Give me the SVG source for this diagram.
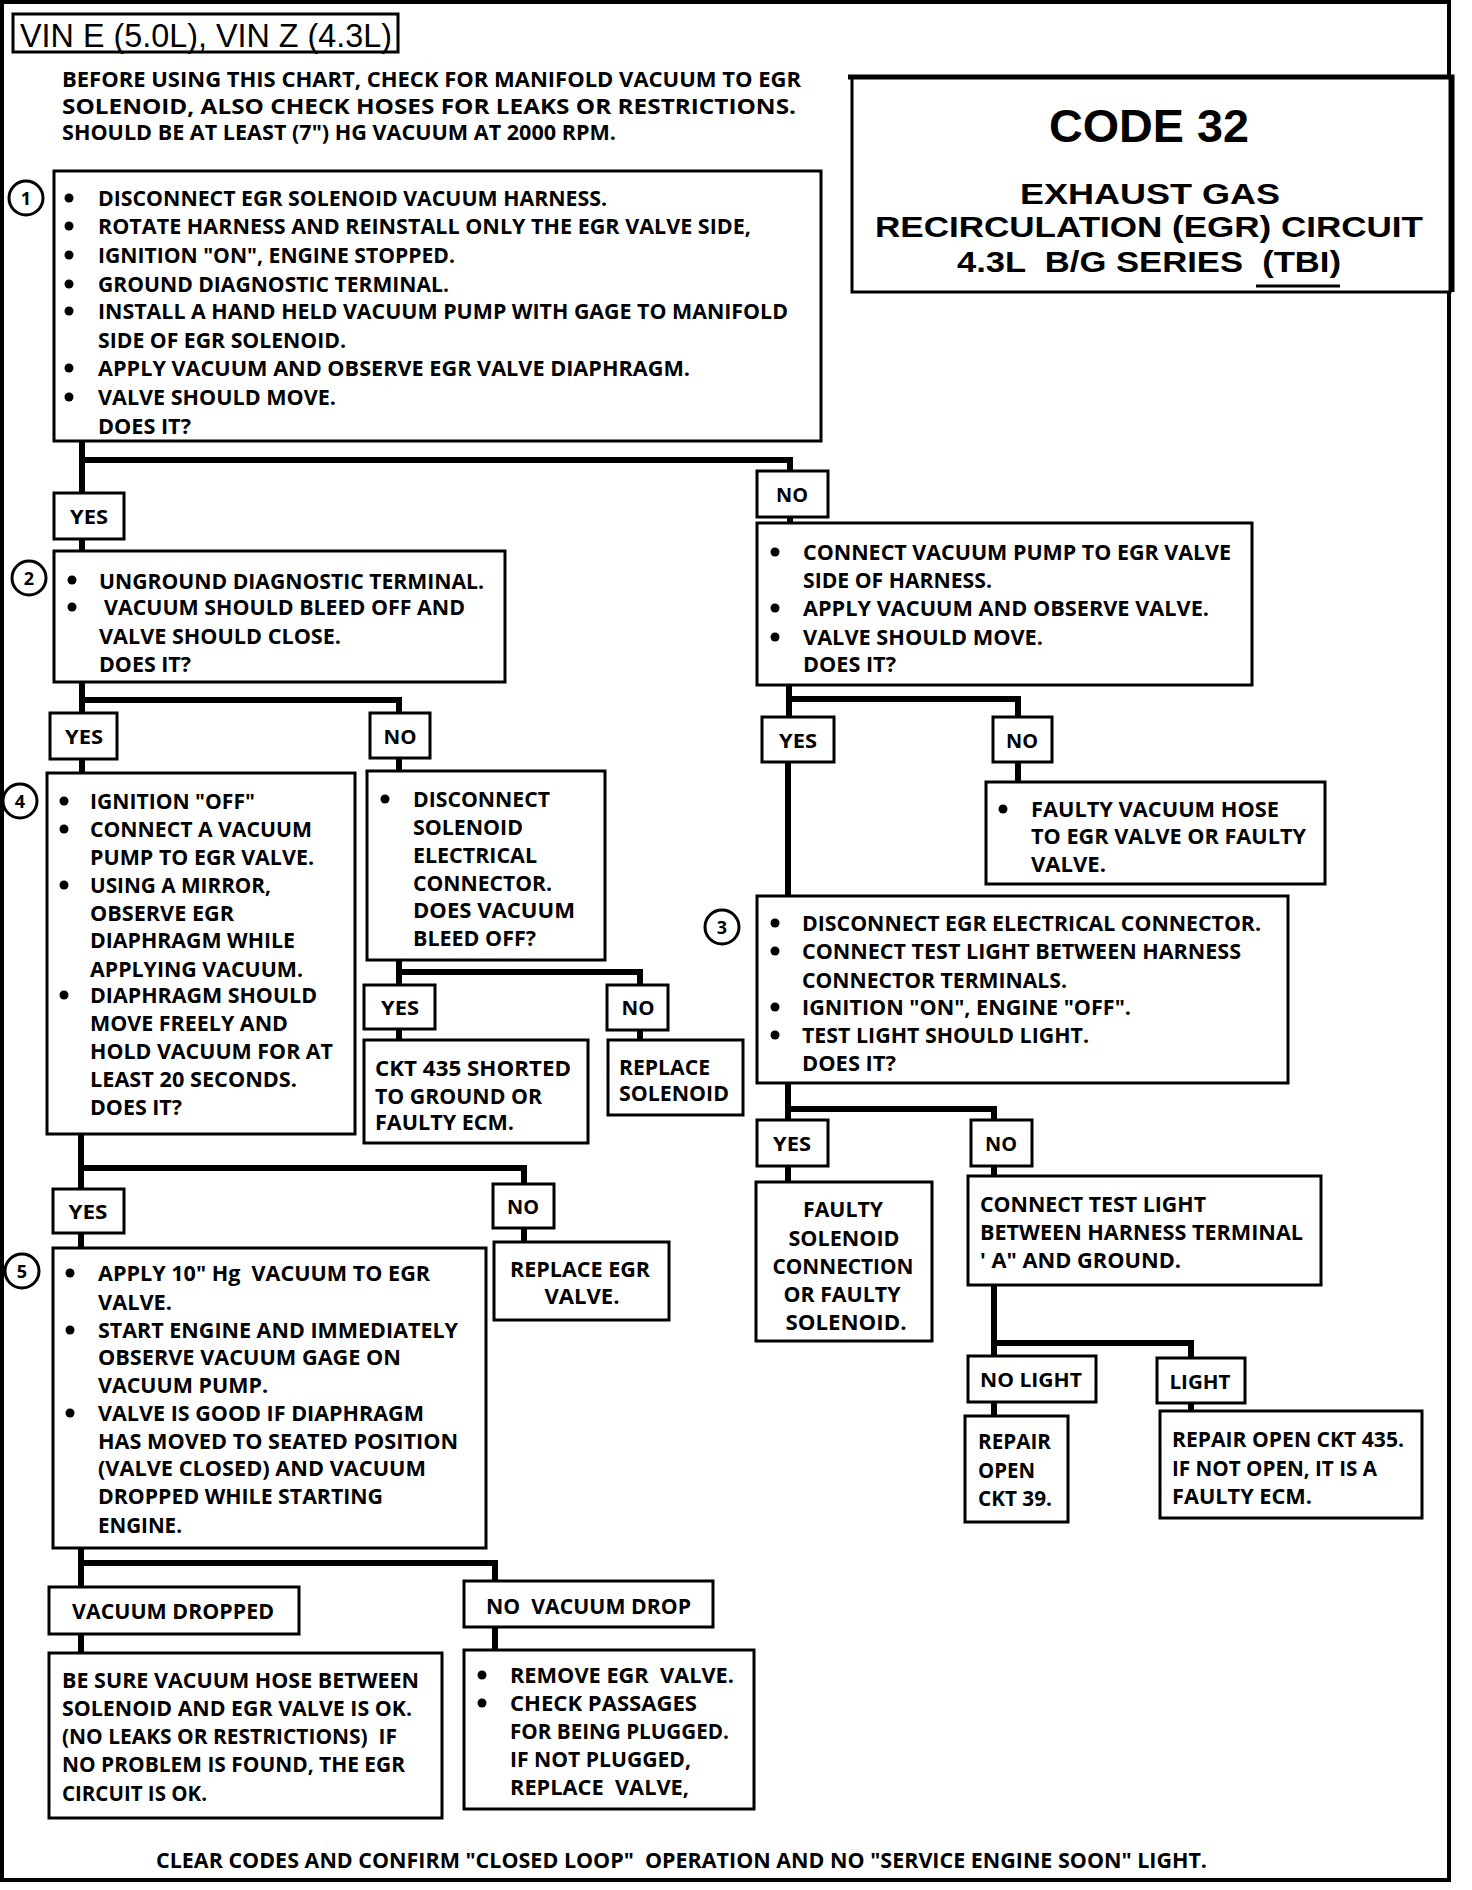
<svg xmlns="http://www.w3.org/2000/svg" width="1472" height="1890" viewBox="0 0 1472 1890">
<style>
.bg{fill:#fff}
.frame{fill:none;stroke:#000;stroke-width:4}
.box{fill:#fff;stroke:#000;stroke-width:3}
.wire{fill:none;stroke:#000;stroke-width:6}
.num{fill:#fff;stroke:#000;stroke-width:3}
text{white-space:pre}
.t{font-family:"Open Sans","DejaVu Sans",sans-serif;font-weight:700;font-size:21px;fill:#000}
.c{text-anchor:middle}
.lb{font-size:20px;text-anchor:middle}
.n{font-size:18px;text-anchor:middle}
.d{fill:#000}
.vin{font-family:"Liberation Sans",Arial,sans-serif;font-size:33px;fill:#000}
.ttl{font-family:"Liberation Sans",Arial,sans-serif;font-weight:700;fill:#000;text-anchor:middle}
</style>
<rect class="bg" x="0" y="0" width="1472" height="1890"/>
<rect class="frame" x="2" y="2" width="1447" height="1878"/>

<g id="vin">
<rect class="box" x="13" y="14" width="385" height="38"/>
<text class="vin" x="20" y="47" textLength="372" lengthAdjust="spacingAndGlyphs">VIN E (5.0L), VIN Z (4.3L)</text>
</g>

<g id="intro">
<text class="t" font-size="20" x="62" y="87" textLength="739" lengthAdjust="spacingAndGlyphs">BEFORE USING THIS CHART, CHECK FOR MANIFOLD VACUUM TO EGR</text>
<text class="t" font-size="20" x="62" y="114" textLength="734" lengthAdjust="spacingAndGlyphs">SOLENOID, ALSO CHECK HOSES FOR LEAKS OR RESTRICTIONS.</text>
<text class="t" font-size="20" x="62" y="140" textLength="554" lengthAdjust="spacingAndGlyphs">SHOULD BE AT LEAST (7") HG VACUUM AT 2000 RPM.</text>
</g>

<g id="title">
<rect x="852" y="77" width="598" height="215" fill="#fff" stroke="#000" stroke-width="3"/>
<path d="M848,77 H1452 V292" fill="none" stroke="#000" stroke-width="5"/>
<text class="ttl" font-size="46" x="1149" y="142" textLength="200" lengthAdjust="spacingAndGlyphs">CODE 32</text>
<text class="ttl" font-size="29" x="1150" y="204" textLength="260" lengthAdjust="spacingAndGlyphs">EXHAUST GAS</text>
<text class="ttl" font-size="29" x="1149" y="237" textLength="548" lengthAdjust="spacingAndGlyphs">RECIRCULATION (EGR) CIRCUIT</text>
<text class="ttl" font-size="29" x="1149" y="272" textLength="384" lengthAdjust="spacingAndGlyphs">4.3L  B/G SERIES  (TBI)</text>
<line x1="1256" y1="286" x2="1340" y2="286" stroke="#000" stroke-width="3"/>
</g>

<g id="connectors">
<path class="wire" d="M82,441 V551 M82,460 H790 V523"/>
<path class="wire" d="M82,682 V773 M82,700 H399 V771"/>
<path class="wire" d="M399,960 V1040 M399,972 H640 V1040"/>
<path class="wire" d="M789,685 V717 M789,699 H1018 V782"/>
<path class="wire" d="M788,762 V896" stroke-width="5"/>
<path class="wire" d="M788,1083 V1182 M788,1109 H994 V1176"/>
<path class="wire" d="M994,1285 V1416 M994,1343 H1191 V1411"/>
<path class="wire" d="M81,1134 V1248 M81,1168 H524 V1242"/>
<path class="wire" d="M81,1548 V1653 M81,1563 H495 V1650"/>
</g>

<g id="step1">
<rect class="box" x="54" y="171" width="767" height="270"/>
<circle class="num" cx="26" cy="198" r="17"/>
<text class="t n" x="26" y="205">1</text>
<circle class="d" cx="69" cy="198" r="4.5"/>
<circle class="d" cx="69" cy="226" r="4.5"/>
<circle class="d" cx="69" cy="255" r="4.5"/>
<circle class="d" cx="69" cy="284" r="4.5"/>
<circle class="d" cx="69" cy="311" r="4.5"/>
<circle class="d" cx="69" cy="368" r="4.5"/>
<circle class="d" cx="69" cy="397" r="4.5"/>
<text class="t" x="98" y="206" textLength="509" lengthAdjust="spacingAndGlyphs">DISCONNECT EGR SOLENOID VACUUM HARNESS.</text>
<text class="t" x="98" y="234" textLength="653" lengthAdjust="spacingAndGlyphs">ROTATE HARNESS AND REINSTALL ONLY THE EGR VALVE SIDE,</text>
<text class="t" x="98" y="263" textLength="357" lengthAdjust="spacingAndGlyphs">IGNITION "ON", ENGINE STOPPED.</text>
<text class="t" x="98" y="292" textLength="351" lengthAdjust="spacingAndGlyphs">GROUND DIAGNOSTIC TERMINAL.</text>
<text class="t" x="98" y="319" textLength="690" lengthAdjust="spacingAndGlyphs">INSTALL A HAND HELD VACUUM PUMP WITH GAGE TO MANIFOLD</text>
<text class="t" x="98" y="348" textLength="248" lengthAdjust="spacingAndGlyphs">SIDE OF EGR SOLENOID.</text>
<text class="t" x="98" y="376" textLength="592" lengthAdjust="spacingAndGlyphs">APPLY VACUUM AND OBSERVE EGR VALVE DIAPHRAGM.</text>
<text class="t" x="98" y="405" textLength="238" lengthAdjust="spacingAndGlyphs">VALVE SHOULD MOVE.</text>
<text class="t" x="98" y="434" textLength="93" lengthAdjust="spacingAndGlyphs">DOES IT?</text>
</g>

<g id="yes1">
<rect class="box" x="54" y="493" width="70" height="46"/>
<text class="t lb" x="89" y="524" textLength="38" lengthAdjust="spacingAndGlyphs">YES</text>
</g>
<g id="no1">
<rect class="box" x="757" y="471" width="71" height="46"/>
<text class="t lb" x="792" y="502" textLength="32" lengthAdjust="spacingAndGlyphs">NO</text>
</g>

<g id="step2">
<rect class="box" x="54" y="551" width="451" height="131"/>
<circle class="num" cx="29" cy="578" r="17"/>
<text class="t n" x="29" y="585">2</text>
<circle class="d" cx="72" cy="580" r="4.5"/>
<circle class="d" cx="72" cy="607" r="4.5"/>
<text class="t" x="99" y="589" textLength="385" lengthAdjust="spacingAndGlyphs">UNGROUND DIAGNOSTIC TERMINAL.</text>
<text class="t" x="104" y="615" textLength="361" lengthAdjust="spacingAndGlyphs">VACUUM SHOULD BLEED OFF AND</text>
<text class="t" x="99" y="644" textLength="242" lengthAdjust="spacingAndGlyphs">VALVE SHOULD CLOSE.</text>
<text class="t" x="99" y="672" textLength="92" lengthAdjust="spacingAndGlyphs">DOES IT?</text>
</g>

<g id="yes2">
<rect class="box" x="50" y="713" width="67" height="46"/>
<text class="t lb" x="84" y="744" textLength="38" lengthAdjust="spacingAndGlyphs">YES</text>
</g>
<g id="no2">
<rect class="box" x="370" y="713" width="60" height="45"/>
<text class="t lb" x="400" y="744" textLength="33" lengthAdjust="spacingAndGlyphs">NO</text>
</g>

<g id="step4">
<rect class="box" x="47" y="773" width="308" height="361"/>
<circle class="num" cx="20" cy="801" r="17"/>
<text class="t n" x="20" y="808">4</text>
<circle class="d" cx="64" cy="801" r="4.5"/>
<circle class="d" cx="64" cy="829" r="4.5"/>
<circle class="d" cx="64" cy="885" r="4.5"/>
<circle class="d" cx="64" cy="995" r="4.5"/>
<text class="t" x="90" y="809" textLength="165" lengthAdjust="spacingAndGlyphs">IGNITION "OFF"</text>
<text class="t" x="90" y="837" textLength="222" lengthAdjust="spacingAndGlyphs">CONNECT A VACUUM</text>
<text class="t" x="90" y="865" textLength="224" lengthAdjust="spacingAndGlyphs">PUMP TO EGR VALVE.</text>
<text class="t" x="90" y="893" textLength="181" lengthAdjust="spacingAndGlyphs">USING A MIRROR,</text>
<text class="t" x="90" y="921" textLength="144" lengthAdjust="spacingAndGlyphs">OBSERVE EGR</text>
<text class="t" x="90" y="948" textLength="205" lengthAdjust="spacingAndGlyphs">DIAPHRAGM WHILE</text>
<text class="t" x="90" y="977" textLength="213" lengthAdjust="spacingAndGlyphs">APPLYING VACUUM.</text>
<text class="t" x="90" y="1003" textLength="227" lengthAdjust="spacingAndGlyphs">DIAPHRAGM SHOULD</text>
<text class="t" x="90" y="1031" textLength="198" lengthAdjust="spacingAndGlyphs">MOVE FREELY AND</text>
<text class="t" x="90" y="1059" textLength="243" lengthAdjust="spacingAndGlyphs">HOLD VACUUM FOR AT</text>
<text class="t" x="90" y="1087" textLength="207" lengthAdjust="spacingAndGlyphs">LEAST 20 SECONDS.</text>
<text class="t" x="90" y="1115" textLength="92" lengthAdjust="spacingAndGlyphs">DOES IT?</text>
</g>

<g id="solenoid-check">
<rect class="box" x="367" y="771" width="238" height="189"/>
<circle class="d" cx="385" cy="799" r="4.5"/>
<text class="t" x="413" y="807" textLength="137" lengthAdjust="spacingAndGlyphs">DISCONNECT</text>
<text class="t" x="413" y="835" textLength="110" lengthAdjust="spacingAndGlyphs">SOLENOID</text>
<text class="t" x="413" y="863" textLength="124" lengthAdjust="spacingAndGlyphs">ELECTRICAL</text>
<text class="t" x="413" y="891" textLength="139" lengthAdjust="spacingAndGlyphs">CONNECTOR.</text>
<text class="t" x="413" y="918" textLength="162" lengthAdjust="spacingAndGlyphs">DOES VACUUM</text>
<text class="t" x="413" y="946" textLength="123" lengthAdjust="spacingAndGlyphs">BLEED OFF?</text>
</g>

<g id="yes3">
<rect class="box" x="364" y="985" width="71" height="44"/>
<text class="t lb" x="400" y="1015" textLength="38" lengthAdjust="spacingAndGlyphs">YES</text>
</g>
<g id="no3">
<rect class="box" x="607" y="985" width="61" height="45"/>
<text class="t lb" x="638" y="1015" textLength="33" lengthAdjust="spacingAndGlyphs">NO</text>
</g>

<g id="ckt435-shorted">
<rect class="box" x="364" y="1040" width="224" height="103"/>
<text class="t" x="375" y="1076" textLength="196" lengthAdjust="spacingAndGlyphs">CKT 435 SHORTED</text>
<text class="t" x="375" y="1104" textLength="167" lengthAdjust="spacingAndGlyphs">TO GROUND OR</text>
<text class="t" x="375" y="1130" textLength="139" lengthAdjust="spacingAndGlyphs">FAULTY ECM.</text>
</g>

<g id="replace-solenoid">
<rect class="box" x="608" y="1040" width="135" height="75"/>
<text class="t" x="619" y="1075" textLength="91" lengthAdjust="spacingAndGlyphs">REPLACE</text>
<text class="t" x="619" y="1101" textLength="110" lengthAdjust="spacingAndGlyphs">SOLENOID</text>
</g>

<g id="pump-check">
<rect class="box" x="757" y="523" width="495" height="162"/>
<circle class="d" cx="775" cy="552" r="4.5"/>
<circle class="d" cx="775" cy="608" r="4.5"/>
<circle class="d" cx="775" cy="637" r="4.5"/>
<text class="t" x="803" y="560" textLength="428" lengthAdjust="spacingAndGlyphs">CONNECT VACUUM PUMP TO EGR VALVE</text>
<text class="t" x="803" y="588" textLength="189" lengthAdjust="spacingAndGlyphs">SIDE OF HARNESS.</text>
<text class="t" x="803" y="616" textLength="406" lengthAdjust="spacingAndGlyphs">APPLY VACUUM AND OBSERVE VALVE.</text>
<text class="t" x="803" y="645" textLength="240" lengthAdjust="spacingAndGlyphs">VALVE SHOULD MOVE.</text>
<text class="t" x="803" y="672" textLength="93" lengthAdjust="spacingAndGlyphs">DOES IT?</text>
</g>

<g id="yes-r1">
<rect class="box" x="762" y="717" width="72" height="45"/>
<text class="t lb" x="798" y="748" textLength="38" lengthAdjust="spacingAndGlyphs">YES</text>
</g>
<g id="no-r1">
<rect class="box" x="993" y="717" width="59" height="45"/>
<text class="t lb" x="1022" y="748" textLength="32" lengthAdjust="spacingAndGlyphs">NO</text>
</g>

<g id="faulty-hose">
<rect class="box" x="986" y="782" width="339" height="102"/>
<circle class="d" cx="1003" cy="809" r="4.5"/>
<text class="t" x="1031" y="817" textLength="248" lengthAdjust="spacingAndGlyphs">FAULTY VACUUM HOSE</text>
<text class="t" x="1031" y="844" textLength="275" lengthAdjust="spacingAndGlyphs">TO EGR VALVE OR FAULTY</text>
<text class="t" x="1031" y="872" textLength="75" lengthAdjust="spacingAndGlyphs">VALVE.</text>
</g>

<g id="step3">
<rect class="box" x="757" y="896" width="531" height="187"/>
<circle class="num" cx="722" cy="927" r="17"/>
<text class="t n" x="722" y="934">3</text>
<circle class="d" cx="775" cy="923" r="4.5"/>
<circle class="d" cx="775" cy="951" r="4.5"/>
<circle class="d" cx="775" cy="1007" r="4.5"/>
<circle class="d" cx="775" cy="1035" r="4.5"/>
<text class="t" x="802" y="931" textLength="459" lengthAdjust="spacingAndGlyphs">DISCONNECT EGR ELECTRICAL CONNECTOR.</text>
<text class="t" x="802" y="959" textLength="439" lengthAdjust="spacingAndGlyphs">CONNECT TEST LIGHT BETWEEN HARNESS</text>
<text class="t" x="802" y="988" textLength="265" lengthAdjust="spacingAndGlyphs">CONNECTOR TERMINALS.</text>
<text class="t" x="802" y="1015" textLength="329" lengthAdjust="spacingAndGlyphs">IGNITION "ON", ENGINE "OFF".</text>
<text class="t" x="802" y="1043" textLength="287" lengthAdjust="spacingAndGlyphs">TEST LIGHT SHOULD LIGHT.</text>
<text class="t" x="802" y="1071" textLength="94" lengthAdjust="spacingAndGlyphs">DOES IT?</text>
</g>

<g id="yes-r3">
<rect class="box" x="757" y="1120" width="71" height="46"/>
<text class="t lb" x="792" y="1151" textLength="38" lengthAdjust="spacingAndGlyphs">YES</text>
</g>
<g id="no-r3">
<rect class="box" x="971" y="1120" width="61" height="46"/>
<text class="t lb" x="1001" y="1151" textLength="32" lengthAdjust="spacingAndGlyphs">NO</text>
</g>

<g id="faulty-solenoid">
<rect class="box" x="756" y="1182" width="176" height="159"/>
<text class="t c" x="843" y="1217" textLength="80" lengthAdjust="spacingAndGlyphs">FAULTY</text>
<text class="t c" x="844" y="1246" textLength="111" lengthAdjust="spacingAndGlyphs">SOLENOID</text>
<text class="t c" x="843" y="1274" textLength="141" lengthAdjust="spacingAndGlyphs">CONNECTION</text>
<text class="t c" x="842" y="1302" textLength="117" lengthAdjust="spacingAndGlyphs">OR FAULTY</text>
<text class="t c" x="846" y="1330" textLength="121" lengthAdjust="spacingAndGlyphs">SOLENOID.</text>
</g>

<g id="connect-test-light">
<rect class="box" x="968" y="1176" width="353" height="109"/>
<text class="t" x="980" y="1212" textLength="226" lengthAdjust="spacingAndGlyphs">CONNECT TEST LIGHT</text>
<text class="t" x="980" y="1240" textLength="323" lengthAdjust="spacingAndGlyphs">BETWEEN HARNESS TERMINAL</text>
<text class="t" x="980" y="1268" textLength="201" lengthAdjust="spacingAndGlyphs">' A" AND GROUND.</text>
</g>

<g id="no-light">
<rect class="box" x="968" y="1356" width="128" height="46"/>
<text class="t lb" x="1031" y="1387" textLength="102" lengthAdjust="spacingAndGlyphs">NO LIGHT</text>
</g>
<g id="light">
<rect class="box" x="1157" y="1358" width="88" height="45"/>
<text class="t lb" x="1200" y="1389" textLength="61" lengthAdjust="spacingAndGlyphs">LIGHT</text>
</g>

<g id="repair-ckt39">
<rect class="box" x="965" y="1416" width="103" height="106"/>
<text class="t" x="978" y="1449" textLength="73" lengthAdjust="spacingAndGlyphs">REPAIR</text>
<text class="t" x="978" y="1478" textLength="57" lengthAdjust="spacingAndGlyphs">OPEN</text>
<text class="t" x="978" y="1506" textLength="74" lengthAdjust="spacingAndGlyphs">CKT 39.</text>
</g>

<g id="repair-ckt435">
<rect class="box" x="1160" y="1411" width="262" height="107"/>
<text class="t" x="1172" y="1447" textLength="232" lengthAdjust="spacingAndGlyphs">REPAIR OPEN CKT 435.</text>
<text class="t" x="1172" y="1476" textLength="205" lengthAdjust="spacingAndGlyphs">IF NOT OPEN, IT IS A</text>
<text class="t" x="1172" y="1504" textLength="140" lengthAdjust="spacingAndGlyphs">FAULTY ECM.</text>
</g>

<g id="yes4">
<rect class="box" x="53" y="1189" width="71" height="44"/>
<text class="t lb" x="88" y="1219" textLength="39" lengthAdjust="spacingAndGlyphs">YES</text>
</g>
<g id="no4">
<rect class="box" x="493" y="1184" width="61" height="44"/>
<text class="t lb" x="523" y="1214" textLength="32" lengthAdjust="spacingAndGlyphs">NO</text>
</g>

<g id="step5">
<rect class="box" x="53" y="1248" width="433" height="300"/>
<circle class="num" cx="22" cy="1271" r="17"/>
<text class="t n" x="22" y="1278">5</text>
<circle class="d" cx="70" cy="1273" r="4.5"/>
<circle class="d" cx="70" cy="1330" r="4.5"/>
<circle class="d" cx="70" cy="1413" r="4.5"/>
<text class="t" x="98" y="1281" textLength="332" lengthAdjust="spacingAndGlyphs">APPLY 10" Hg  VACUUM TO EGR</text>
<text class="t" x="98" y="1310" textLength="74" lengthAdjust="spacingAndGlyphs">VALVE.</text>
<text class="t" x="98" y="1338" textLength="360" lengthAdjust="spacingAndGlyphs">START ENGINE AND IMMEDIATELY</text>
<text class="t" x="98" y="1365" textLength="303" lengthAdjust="spacingAndGlyphs">OBSERVE VACUUM GAGE ON</text>
<text class="t" x="98" y="1393" textLength="170" lengthAdjust="spacingAndGlyphs">VACUUM PUMP.</text>
<text class="t" x="98" y="1421" textLength="326" lengthAdjust="spacingAndGlyphs">VALVE IS GOOD IF DIAPHRAGM</text>
<text class="t" x="98" y="1449" textLength="360" lengthAdjust="spacingAndGlyphs">HAS MOVED TO SEATED POSITION</text>
<text class="t" x="98" y="1476" textLength="328" lengthAdjust="spacingAndGlyphs">(VALVE CLOSED) AND VACUUM</text>
<text class="t" x="98" y="1504" textLength="285" lengthAdjust="spacingAndGlyphs">DROPPED WHILE STARTING</text>
<text class="t" x="98" y="1533" textLength="84" lengthAdjust="spacingAndGlyphs">ENGINE.</text>
</g>

<g id="replace-egr">
<rect class="box" x="494" y="1242" width="175" height="78"/>
<text class="t c" x="580" y="1277" textLength="140" lengthAdjust="spacingAndGlyphs">REPLACE EGR</text>
<text class="t c" x="582" y="1304" textLength="75" lengthAdjust="spacingAndGlyphs">VALVE.</text>
</g>

<g id="vacuum-dropped">
<rect class="box" x="49" y="1587" width="250" height="47"/>
<text class="t" x="72" y="1619" textLength="202" lengthAdjust="spacingAndGlyphs">VACUUM DROPPED</text>
</g>
<g id="no-vacuum-drop">
<rect class="box" x="464" y="1581" width="249" height="46"/>
<text class="t" x="486" y="1614" textLength="205" lengthAdjust="spacingAndGlyphs">NO  VACUUM DROP</text>
</g>

<g id="be-sure">
<rect class="box" x="49" y="1653" width="393" height="165"/>
<text class="t" x="62" y="1688" textLength="357" lengthAdjust="spacingAndGlyphs">BE SURE VACUUM HOSE BETWEEN</text>
<text class="t" x="62" y="1716" textLength="350" lengthAdjust="spacingAndGlyphs">SOLENOID AND EGR VALVE IS OK.</text>
<text class="t" x="62" y="1744" textLength="335" lengthAdjust="spacingAndGlyphs">(NO LEAKS OR RESTRICTIONS)  IF</text>
<text class="t" x="62" y="1772" textLength="343" lengthAdjust="spacingAndGlyphs">NO PROBLEM IS FOUND, THE EGR</text>
<text class="t" x="62" y="1801" textLength="145" lengthAdjust="spacingAndGlyphs">CIRCUIT IS OK.</text>
</g>

<g id="remove-egr">
<rect class="box" x="464" y="1650" width="290" height="159"/>
<circle class="d" cx="482" cy="1675" r="4.5"/>
<circle class="d" cx="482" cy="1703" r="4.5"/>
<text class="t" x="510" y="1683" textLength="224" lengthAdjust="spacingAndGlyphs">REMOVE EGR  VALVE.</text>
<text class="t" x="510" y="1711" textLength="187" lengthAdjust="spacingAndGlyphs">CHECK PASSAGES</text>
<text class="t" x="510" y="1739" textLength="219" lengthAdjust="spacingAndGlyphs">FOR BEING PLUGGED.</text>
<text class="t" x="510" y="1767" textLength="181" lengthAdjust="spacingAndGlyphs">IF NOT PLUGGED,</text>
<text class="t" x="510" y="1795" textLength="179" lengthAdjust="spacingAndGlyphs">REPLACE  VALVE,</text>
</g>

<g id="footer">
<text class="t" x="156" y="1868" textLength="1051" lengthAdjust="spacingAndGlyphs">CLEAR CODES AND CONFIRM "CLOSED LOOP"  OPERATION AND NO "SERVICE ENGINE SOON" LIGHT.</text>
</g>
</svg>
